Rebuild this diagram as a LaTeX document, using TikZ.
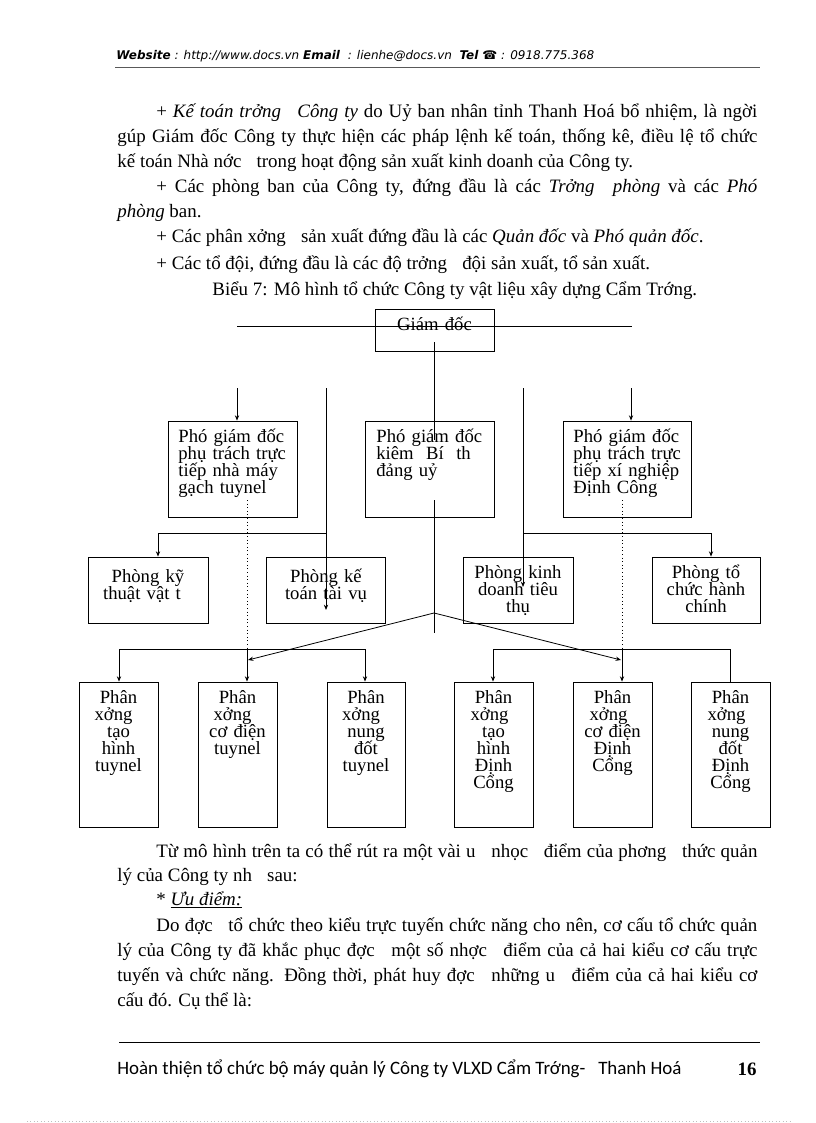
\documentclass[tikz,border=0pt]{standalone}
\usepackage{fontspec}
\setmainfont{Liberation Serif}
\newfontfamily\hdrfont{DejaVu Sans}
\newfontfamily\ftrfont{Carlito}
\usetikzlibrary{arrows.meta,fit}
\newlength\pxu \setlength\pxu{0.75pt}
\newcommand\bodyfont{\fontsize{14.2}{18.75}\selectfont}
\newcommand\chartfont{\fontsize{14}{12.75}\selectfont\lineskiplimit=-20pt\lineskip=0pt}
\newcommand\jline[2]{\makebox[#1\pxu][s]{#2}}
\newcommand\gp{\hspace{0.55em}}
\begin{document}
\begin{tikzpicture}[x=0.75pt,y=-0.75pt,line width=0.6pt,
  pbox/.style={draw, inner sep=0pt},
  ctext/.style={inner sep=0pt, font=\chartfont, align=center, anchor=base, text width=#1*0.75pt},
  ltext/.style={inner sep=0pt, font=\chartfont, align=left, anchor=base west},
  body/.style={inner sep=0pt, font=\bodyfont, anchor=base west},
  arr/.style={-{Stealth[length=4pt,width=3.2pt]}},
  dots/.style={dotted, line width=0.7pt}]
\useasboundingbox (0,0) rectangle (816,1123);
\fill[white] (0,0) rectangle (816,1123);

% header
\node[inner sep=0pt, anchor=base west, font=\hdrfont\fontsize{9}{10}\selectfont] (hdr) at (116,60)
 {\textbf{\textit{Website}}\textit{ : http://www.docs.vn }\textbf{\textit{Email}}\textit{\ \ : lienhe@docs.vn\ \ }\textbf{\textit{Tel}} ☎\textit{ : 0918.775.368}};
\draw[gray!70!black] (115,67) -- (760,67);

% body top
\node[body] (b1) at (156,118) {\jline{601}{+ \textit{Kế toán trởng\gp{} Công ty} do Uỷ ban nhân tỉnh Thanh Hoá bổ nhiệm, là ngời}};
\node[body] (b2) at (117,143) {\jline{640}{gúp Giám đốc Công ty thực hiện các pháp lệnh kế toán, thống kê, điều lệ tổ chức}};
\node[body] (b3) at (117,168) {kế toán Nhà nớc\gp{} trong hoạt động sản xuất kinh doanh của Công ty.};
\node[body] (b4) at (156,193) {\jline{601}{+ Các phòng ban của Công ty, đứng đầu là các \textit{Trởng\gp{} phòng} và các \textit{Phó}}};
\node[body] (b5) at (117,218) {\textit{phòng} ban.};
\node[body] (b6) at (156,243) {+ Các phân xởng\gp{} sản xuất đứng đầu là các \textit{Quản đốc} và \textit{Phó quản đốc}.};
\node[body] (b7) at (156,269) {+ Các tổ đội, đứng đầu là các độ trởng\gp{} đội sản xuất, tổ sản xuất.};
\node[body] (cap) at (212,295) {Biểu 7: Mô hình tổ chức Công ty vật liệu xây dựng Cẩm Trớng.};

% chart: director
\node[pbox, fit={(375,309) (494,351)}] (gd) {};
\node[ctext=110] (gdt) at (434.5,330) {Giám đốc};
\coordinate (hl) at (237,326);
\coordinate (hr) at (632,326);
\draw (hl) -- (hr);

% deputy boxes
\node[pbox, fit={(168,421) (297,517)}] (pgd1) {};
\node[pbox, fit={(365,421) (494,517)}] (pgd2) {};
\node[pbox, fit={(563,421) (691,517)}] (pgd3) {};
\node[ltext, text width=106\pxu] (pgd1t) at (178,442) {\jline{106}{Phó giám đốc}\\\jline{106}{phụ trách trực}\\\jline{106}{tiếp nhà máy}\\gạch tuynel};
\node[ltext, text width=106\pxu] (pgd2t) at (376,442) {\jline{106}{Phó giám đốc}\\\jline{97}{kiêm\ \ Bí\ \ th}\\đảng uỷ};
\node[ltext, text width=106\pxu] (pgd3t) at (573,442) {\jline{106}{Phó giám đốc}\\\jline{106}{phụ trách trực}\\\jline{106}{tiếp xí nghiệp}\\Định Công};

% department boxes
\node[pbox, fit={(88,557) (208,623)}] (pky) {};
\node[pbox, fit={(266,557) (385,623)}] (pkt) {};
\node[pbox, fit={(463,557) (573,623)}] (pkd) {};
\node[pbox, fit={(652,557) (760,623)}] (pto) {};
\node[ctext=116] (pkyt) at (148,582) {Phòng kỹ\\thuật vật t\hbox to 12\pxu{}};
\node[ctext=116] (pktt) at (326,582) {Phòng kế\\toán tài vụ};
\node[ctext=108] (pkdt) at (518,578) {Phòng kinh\\doanh tiêu\\thụ};
\node[ctext=106] (ptot) at (706,578) {Phòng tổ\\chức hành\\chính};

% workshop boxes
\node[pbox, fit={(79,682) (158,827)}] (px1) {};
\node[pbox, fit={(198,682) (277,827)}] (px2) {};
\node[pbox, fit={(327,682) (405,827)}] (px3) {};
\node[pbox, fit={(454,682) (533,827)}] (px4) {};
\node[pbox, fit={(573,682) (652,827)}] (px5) {};
\node[pbox, fit={(691,682) (770,827)}] (px6) {};
\node[ctext=77] (px1t) at (118.5,703) {Phân\\xởng\hbox to 10\pxu{}\\tạo\\hình\\tuynel};
\node[ctext=77] (px2t) at (237.5,703) {Phân\\xởng\hbox to 10\pxu{}\\cơ điện\\tuynel};
\node[ctext=77] (px3t) at (366,703) {Phân\\xởng\hbox to 10\pxu{}\\nung\\đốt\\tuynel};
\node[ctext=77] (px4t) at (493.5,703) {Phân\\xởng\hbox to 8\pxu{}\\tạo\\hình\\Định\\Cổng};
\node[ctext=77] (px5t) at (612.5,703) {Phân\\xởng\hbox to 8\pxu{}\\cơ điện\\Định\\Cổng};
\node[ctext=77] (px6t) at (730.5,703) {Phân\\xởng\hbox to 8\pxu{}\\nung\\đốt\\Định\\Cổng};

% connectors top
\coordinate (gdv) at (434,342);
\coordinate (gdve) at (434,440);
\draw (gdv) -- (gdve);
\coordinate (a1) at (237,388);
\coordinate (a3) at (631,388);
\draw[arr] (a1) -- (a1 |- pgd1.north);
\draw[arr] (a3) -- (a3 |- pgd3.north);
\coordinate (vl) at (326,388);
\coordinate (vle) at (326,610);
\coordinate (vlj) at (326,533);
\coordinate (vr) at (523,388);
\coordinate (vre) at (523,587);
\coordinate (vrj) at (523,533);
\coordinate (kyj) at (158,533);
\coordinate (toj) at (711,533);
\draw[arr] (vl) -- (vle);
\draw[arr] (vr) -- (vre);
\draw[arr] (vlj) -- (kyj) -- (kyj |- pky.north);
\draw[arr] (vrj) -- (toj) -- (toj |- pto.north);

% center and fan
\coordinate (cv) at (434,500);
\coordinate (apex) at (434,613);
\coordinate (cve) at (434,633);
\coordinate (fl) at (248,660);
\coordinate (fr) at (621,660);
\draw (cv) -- (cve);
\draw[arr] (apex) -- (fl);
\draw[arr] (apex) -- (fr);

% dotted lines
\coordinate (dl) at (247,500);
\coordinate (dlb) at (247,649);
\coordinate (dr) at (622,500);
\coordinate (drb) at (622,649);
\draw[dots] (dl) -- (dlb);
\draw[dots] (dr) -- (drb);

% bars
\coordinate (lb1) at (119,649);
\coordinate (lb3) at (365,649);
\coordinate (rb1) at (493,649);
\coordinate (rb3) at (730,649);
\draw (lb1) -- (lb3);
\draw (rb1) -- (rb3);
\draw[arr] (lb1) -- (lb1 |- px1.north);
\draw[arr] (dlb) -- (dlb |- px2.north);
\draw[arr] (lb3) -- (lb3 |- px3.north);
\draw[arr] (rb1) -- (rb1 |- px4.north);
\draw[arr] (drb) -- (drb |- px5.north);
\draw (rb3) -- (rb3 |- px6.north);

% body bottom
\node[body] (c1) at (156,857) {\jline{601}{Từ mô hình trên ta\ có thể rút ra một vài u\gp{} nhọc\gp{} điểm của phơng\gp{} thức quản}};
\node[body] (c2) at (117,881) {lý của Công ty nh\gp{} sau:};
\node[body] (c3) at (156,905) {* \underline{\textit{Ưu điểm:}}};
\node[body] (c4) at (156,931) {\jline{601}{Do đợc\gp{} tổ chức theo kiểu trực tuyến chức năng cho nên, cơ cấu tổ chức quản}};
\node[body] (c5) at (117,956) {\jline{640}{lý của Công ty đã khắc phục đợc\gp{} một số nhợc\gp{} điểm của cả hai kiểu cơ cấu trực}};
\node[body] (c6) at (117,981) {\jline{640}{tuyến và chức năng. Đồng thời, phát huy đợc\gp{} những u\gp{} điểm của cả hai kiểu cơ}};
\node[body] (c7) at (117,1006) {cấu đó. Cụ thể là:};

% footer
\draw (119,1042) -- (760,1042);
\node[inner sep=0pt, anchor=base west, font=\ftrfont\fontsize{14.2}{16}\selectfont] (ftr) at (117,1074) {Hoàn thiện tổ chức bộ máy quản lý Công ty VLXD Cẩm Trớng-\ \ \ Thanh Hoá};
\node[inner sep=0pt, anchor=base east, font=\bodyfont\bfseries] (pg) at (757,1075) {16};
\draw[gray!50, dotted] (27,1121) -- (790,1121);
\end{tikzpicture}
\end{document}
